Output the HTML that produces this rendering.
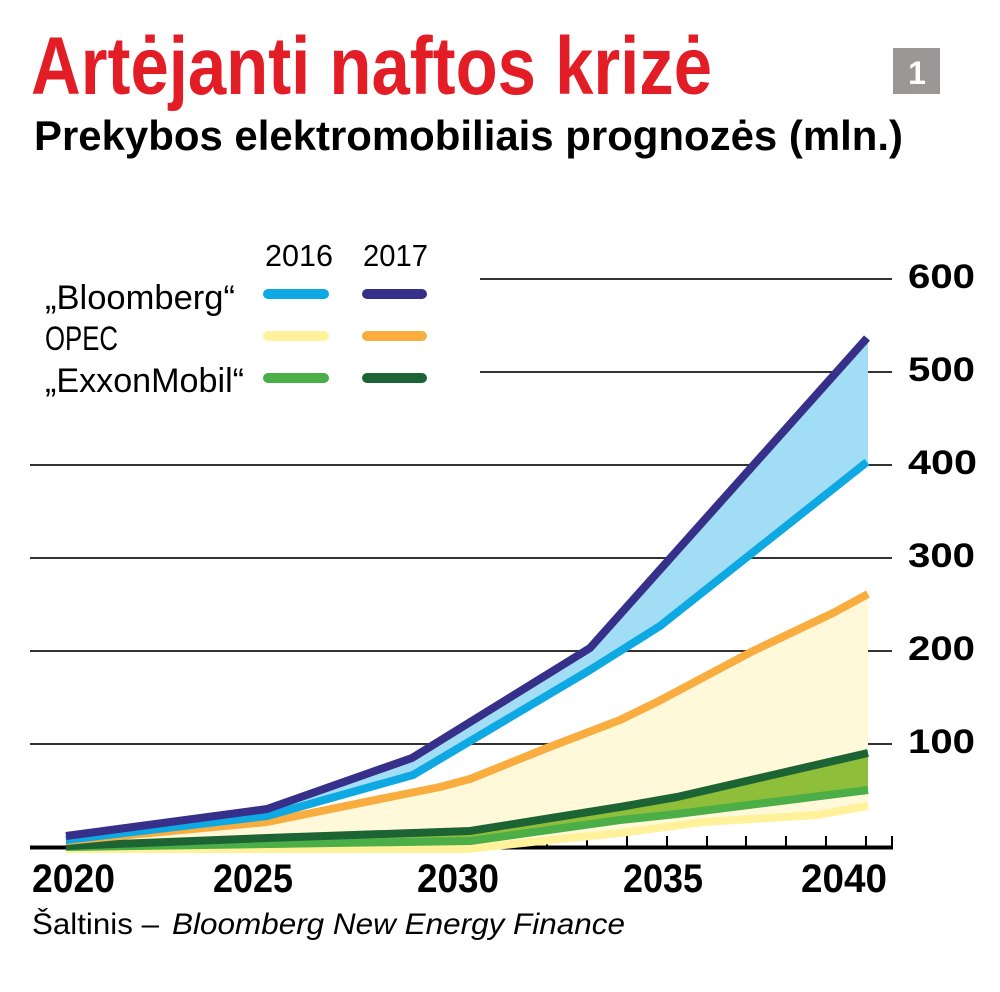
<!DOCTYPE html>
<html>
<head>
<meta charset="utf-8">
<style>
  html, body { margin: 0; padding: 0; background: #ffffff; }
  svg { display: block; font-family: "Liberation Sans", "DejaVu Sans", sans-serif; }
</style>
</head>
<body>
<svg width="1000" height="992" viewBox="0 0 1000 992" xmlns="http://www.w3.org/2000/svg">
  <rect width="1000" height="992" fill="#ffffff"/>

  <!-- Title -->
  <text x="31" y="94" font-size="82" font-weight="bold" fill="#e31d25" textLength="681" lengthAdjust="spacingAndGlyphs">Artėjanti naftos krizė</text>
  <text x="34" y="150" font-size="42" font-weight="bold" fill="#000000" textLength="869" lengthAdjust="spacingAndGlyphs">Prekybos elektromobiliais prognozės (mln.)</text>

  <!-- Gray number box -->
  <rect x="893" y="48" width="47" height="46" fill="#9b9797"/>
  <text x="917" y="84" font-size="32" font-weight="bold" fill="#ffffff" text-anchor="middle">1</text>

  <!-- Gridlines -->
  <g stroke="#333333" stroke-width="2">
    <line x1="480" y1="279" x2="892" y2="279"/>
    <line x1="480" y1="372" x2="892" y2="372"/>
    <line x1="30" y1="465" x2="892" y2="465"/>
    <line x1="30" y1="558" x2="892" y2="558"/>
    <line x1="30" y1="651" x2="892" y2="651"/>
    <line x1="30" y1="744" x2="892" y2="744"/>
  </g>

  <!-- Axis and ticks -->
  <line x1="30" y1="847.5" x2="893" y2="847.5" stroke="#000000" stroke-width="4"/>
  <g stroke="#000000" stroke-width="2">
    <line x1="106" y1="836" x2="106" y2="847"/>
    <line x1="146" y1="836" x2="146" y2="847"/>
    <line x1="186" y1="836" x2="186" y2="847"/>
    <line x1="226" y1="836" x2="226" y2="847"/>
    <line x1="266" y1="836" x2="266" y2="847"/>
    <line x1="306" y1="836" x2="306" y2="847"/>
    <line x1="346" y1="836" x2="346" y2="847"/>
    <line x1="386" y1="836" x2="386" y2="847"/>
    <line x1="426" y1="836" x2="426" y2="847"/>
    <line x1="467" y1="836" x2="467" y2="847"/>
    <line x1="507" y1="836" x2="507" y2="847"/>
    <line x1="547" y1="836" x2="547" y2="847"/>
    <line x1="587" y1="836" x2="587" y2="847"/>
    <line x1="627" y1="836" x2="627" y2="847"/>
    <line x1="667" y1="836" x2="667" y2="847"/>
    <line x1="707" y1="836" x2="707" y2="847"/>
    <line x1="746" y1="836" x2="746" y2="847"/>
    <line x1="786" y1="836" x2="786" y2="847"/>
    <line x1="826" y1="836" x2="826" y2="847"/>
    <line x1="866" y1="836" x2="866" y2="847"/>
    <line x1="892" y1="836" x2="892" y2="847"/>
  </g>

  <!-- Fills -->
  <polygon fill="#fff9d9" points="66,841 267,822 390,797 440,787 470,779 547,748 620,720 657,702 753,651 833,613 868,594 868,806 817,815 703,822 620,833 550,840 467,849 66,849"/>
  <polygon fill="#a1ddf5" points="66,836 267,809 412,758 590,648 868,337 868,462 660,626 590,670 413,775 267,816 66,840"/>
  <polygon fill="#8fbf3a" points="66,846 267,838 470,831 620,807 677,797 868,753 868,790 677,814 620,820 470,841 66,848"/>

  <!-- Series lines -->
  <g fill="none" stroke-width="8" stroke-linecap="butt" stroke-linejoin="round">
    <polyline stroke="#fff29b" points="66,849 467,849 550,840 620,833 703,822 817,815 868,806"/>
    <polyline stroke="#4bae47" points="66,847 470,841 620,820 677,814 868,790"/>
    <polyline stroke="#1d6434" points="66,846 267,838 470,831 620,807 677,797 868,753"/>
    <polyline stroke="#f9ad3f" points="66,841 267,822 390,797 440,787 470,779 547,748 620,720 657,702 753,651 833,613 868,594"/>
    <polyline stroke="#0ea8e3" points="66,840 267,816 413,775 590,670 660,626 867,462"/>
    <polyline stroke="#37308a" points="66,836 267,809 412,758 590,648 867,338"/>
  </g>

  <!-- Legend -->
  <text x="265" y="266" font-size="31" fill="#000000" textLength="68" lengthAdjust="spacingAndGlyphs">2016</text>
  <text x="363" y="266" font-size="31" fill="#000000" textLength="65" lengthAdjust="spacingAndGlyphs">2017</text>
  <text x="45" y="309" font-size="34" fill="#000000" textLength="190" lengthAdjust="spacingAndGlyphs">„Bloomberg“</text>
  <text x="45" y="350" font-size="34" fill="#000000" textLength="73" lengthAdjust="spacingAndGlyphs">OPEC</text>
  <text x="45" y="392" font-size="34" fill="#000000" textLength="199" lengthAdjust="spacingAndGlyphs">„ExxonMobil“</text>
  <g stroke-width="10" stroke-linecap="round">
    <line x1="268" y1="294" x2="324" y2="294" stroke="#0ea8e3"/>
    <line x1="367" y1="294" x2="422" y2="294" stroke="#37308a"/>
    <line x1="268" y1="336" x2="324" y2="336" stroke="#fff29b"/>
    <line x1="367" y1="336" x2="422" y2="336" stroke="#f9ad3f"/>
    <line x1="268" y1="378" x2="324" y2="378" stroke="#4bae47"/>
    <line x1="367" y1="378" x2="422" y2="378" stroke="#1d6434"/>
  </g>

  <!-- Y axis labels -->
  <g font-size="34" font-weight="bold" fill="#000000">
    <text x="908" y="288" textLength="67" lengthAdjust="spacingAndGlyphs">600</text>
    <text x="908" y="381" textLength="67" lengthAdjust="spacingAndGlyphs">500</text>
    <text x="908" y="474" textLength="69" lengthAdjust="spacingAndGlyphs">400</text>
    <text x="908" y="567" textLength="67" lengthAdjust="spacingAndGlyphs">300</text>
    <text x="908" y="660" textLength="67" lengthAdjust="spacingAndGlyphs">200</text>
    <text x="908" y="753" textLength="67" lengthAdjust="spacingAndGlyphs">100</text>
  </g>

  <!-- X axis labels -->
  <g font-size="40" font-weight="bold" fill="#000000">
    <text x="32" y="892" textLength="83" lengthAdjust="spacingAndGlyphs">2020</text>
    <text x="213" y="892" textLength="80" lengthAdjust="spacingAndGlyphs">2025</text>
    <text x="417" y="892" textLength="82" lengthAdjust="spacingAndGlyphs">2030</text>
    <text x="623" y="892" textLength="80" lengthAdjust="spacingAndGlyphs">2035</text>
    <text x="801" y="892" textLength="86" lengthAdjust="spacingAndGlyphs">2040</text>
  </g>

  <!-- Source -->
  <text x="32" y="934" font-size="30" fill="#000000" textLength="127" lengthAdjust="spacingAndGlyphs">Šaltinis –</text>
  <text x="172" y="934" font-size="30" font-style="italic" fill="#000000" textLength="453" lengthAdjust="spacingAndGlyphs">Bloomberg New Energy Finance</text>
</svg>
</body>
</html>
